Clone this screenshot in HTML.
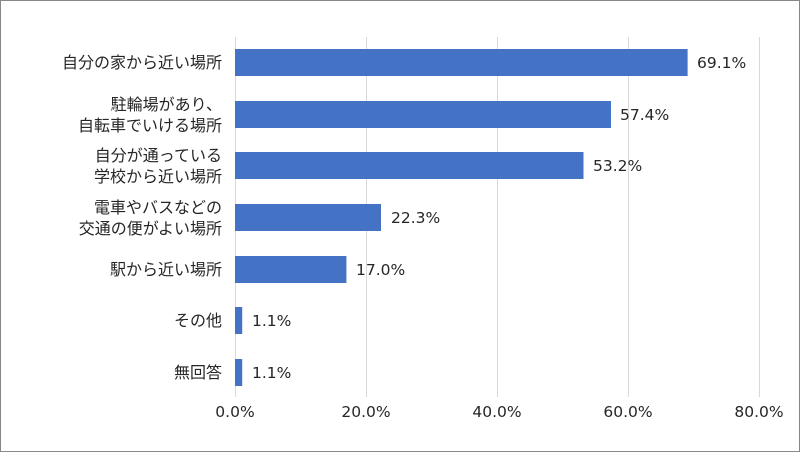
<!DOCTYPE html>
<html><head><meta charset="utf-8"><style>
html,body{margin:0;padding:0;background:#fff}
svg{display:block}
text{font-family:"Liberation Sans","Noto Sans CJK JP",sans-serif;font-size:16px;fill:#262626}
.n{font-family:"DejaVu Sans",sans-serif;font-size:15.5px}
</style></head><body>
<svg width="800" height="452" viewBox="0 0 800 452" xmlns="http://www.w3.org/2000/svg">
<rect x="0.5" y="0.5" width="799" height="451" fill="#fff" stroke="#888" stroke-width="1"/>
<g stroke="#d9d9d9" stroke-width="1">
<line x1="235.5" y1="37" x2="235.5" y2="397"/>
<line x1="366.5" y1="37" x2="366.5" y2="397"/>
<line x1="497.5" y1="37" x2="497.5" y2="397"/>
<line x1="628.5" y1="37" x2="628.5" y2="397"/>
<line x1="759.5" y1="37" x2="759.5" y2="397"/>
</g>
<g fill="#4472c4">
<rect x="235" y="49" width="452.6" height="27"/>
<rect x="235" y="101" width="376" height="27"/>
<rect x="235" y="152" width="348.5" height="27"/>
<rect x="235" y="204" width="146" height="27"/>
<rect x="235" y="256" width="111.4" height="27"/>
<rect x="235" y="307" width="7.2" height="27"/>
<rect x="235" y="359" width="7.2" height="27"/>
</g>
<g class="n">
<text class="n" x="697" y="68">69.1%</text>
<text class="n" x="620" y="120">57.4%</text>
<text class="n" x="593" y="171">53.2%</text>
<text class="n" x="391" y="223">22.3%</text>
<text class="n" x="356" y="275">17.0%</text>
<text class="n" x="252" y="326">1.1%</text>
<text class="n" x="252" y="378">1.1%</text>
</g>
<g text-anchor="end">
<text x="222" y="68">自分の家から近い場所</text>
<text x="222" y="110">駐輪場があり、</text>
<text x="222" y="131">自転車でいける場所</text>
<text x="222" y="161">自分が通っている</text>
<text x="222" y="182">学校から近い場所</text>
<text x="222" y="213">電車やバスなどの</text>
<text x="222" y="234">交通の便がよい場所</text>
<text x="222" y="275">駅から近い場所</text>
<text x="222" y="326">その他</text>
<text x="222" y="378">無回答</text>
</g>
<g text-anchor="middle">
<text class="n" x="235" y="417">0.0%</text>
<text class="n" x="366" y="417">20.0%</text>
<text class="n" x="497" y="417">40.0%</text>
<text class="n" x="628" y="417">60.0%</text>
<text class="n" x="759" y="417">80.0%</text>
</g>
</svg>
</body></html>
